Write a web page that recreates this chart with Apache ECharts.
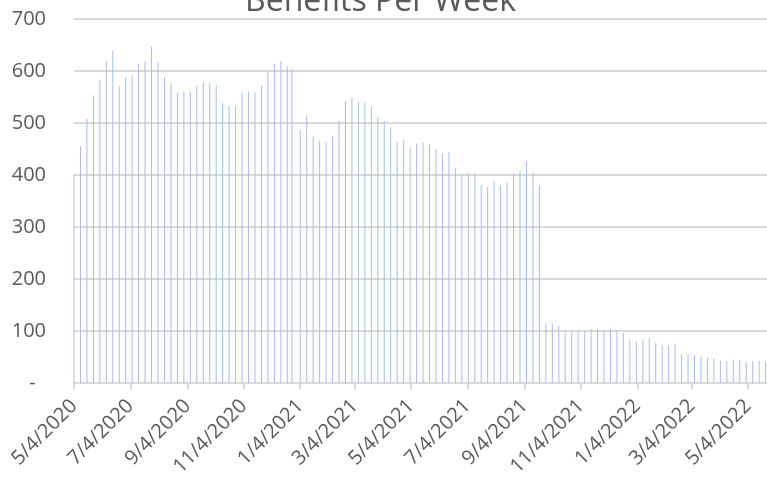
<!DOCTYPE html>
<html>
<head>
<meta charset="utf-8">
<script src="https://cdn.jsdelivr.net/npm/echarts@6/dist/echarts.min.js"></script>
<style>
html,body{margin:0;padding:0;background:#fff;}
#c{width:767px;height:485px;}
</style>
</head>
<body>
<div id="c"></div>
<script>
const chartTitle = 'Benefits Per Week';
const weekDates = [
 '2020-05-04','2020-05-11','2020-05-18','2020-05-25','2020-06-01','2020-06-08','2020-06-15','2020-06-22','2020-06-29',
 '2020-07-06','2020-07-13','2020-07-20','2020-07-27','2020-08-03','2020-08-10','2020-08-17','2020-08-24','2020-08-31',
 '2020-09-07','2020-09-14','2020-09-21','2020-09-28','2020-10-05','2020-10-12','2020-10-19','2020-10-26',
 '2020-11-02','2020-11-09','2020-11-16','2020-11-23','2020-11-30','2020-12-07','2020-12-14','2020-12-21','2020-12-26',
 '2021-01-04','2021-01-11','2021-01-18','2021-01-25','2021-02-01','2021-02-08','2021-02-15','2021-02-22',
 '2021-03-01','2021-03-08','2021-03-15','2021-03-22','2021-03-29','2021-04-05','2021-04-12','2021-04-19','2021-04-26',
 '2021-05-03','2021-05-10','2021-05-17','2021-05-24','2021-05-31','2021-06-07','2021-06-14','2021-06-21','2021-06-28',
 '2021-07-05','2021-07-12','2021-07-19','2021-07-26','2021-08-02','2021-08-09','2021-08-16','2021-08-23','2021-08-30',
 '2021-09-06','2021-09-13','2021-09-20','2021-09-27','2021-10-04','2021-10-11','2021-10-18','2021-10-25',
 '2021-11-01','2021-11-08','2021-11-15','2021-11-22','2021-11-29','2021-12-06','2021-12-13','2021-12-20','2021-12-27',
 '2022-01-03','2022-01-10','2022-01-17','2022-01-24','2022-01-31','2022-02-07','2022-02-14','2022-02-21','2022-02-28',
 '2022-03-07','2022-03-14','2022-03-21','2022-03-28','2022-04-04','2022-04-11','2022-04-18','2022-04-25',
 '2022-05-02','2022-05-09','2022-05-16','2022-05-23'
];
const benefits = [
 400,456,508,553,583,619,639,571,587,
 592,615,619,647,617,588,577,558,560,
 561,571,579,577,573,538,533,533,
 558,560,558,571,597,614,619,608,604,
 487,516,476,466,462,476,504,542,
 549,540,540,531,511,504,492,463,467,
 453,460,463,458,450,442,444,413,402,
 404,403,381,377,387,381,385,403,408,
 427,404,380,115,114,110,101,99,
 100,100,104,104,101,104,101,96,83,
 79,84,86,78,73,72,76,55,56,
 53,51,49,47,43,42,44,44,
 40,42,43,41
];
const tickDates = ['2020-05-04','2020-07-04','2020-09-04','2020-11-04','2021-01-04','2021-03-04','2021-05-04',
 '2021-07-04','2021-09-04','2021-11-04','2022-01-04','2022-03-04','2022-05-04'];
const axisStart = '2020-05-04';
const axisEnd = '2022-05-24T12:00';

function ts(s){
  const p = s.split('T');
  const d = p[0].split('-').map(Number);
  let h = 0;
  if (p[1]) h = Number(p[1].split(':')[0]);
  return Date.UTC(d[0], d[1]-1, d[2], h);
}
function fmt(v){
  const d = new Date(v);
  return (d.getUTCMonth()+1) + '/' + d.getUTCDate() + '/' + d.getUTCFullYear();
}
const tickTs = tickDates.map(ts);
const seriesData = weekDates.map((d,i)=>[ts(d), benefits[i]]);

const chart = echarts.init(document.getElementById('c'));
const font = '"Open Sans", "Noto Sans", sans-serif';
chart.setOption({
  animation: false,
  title: {
    text: chartTitle,
    left: 240,
    top: -19,
    textStyle: {fontFamily: font, fontSize: 32, fontWeight: 'normal', color: '#595959'}
  },
  grid: {left: 74, right: 0, top: 19, bottom: 102, containLabel: false},
  xAxis: {
    type: 'value',
    min: ts(axisStart),
    max: ts(axisEnd),
    splitLine: {show: false},
    axisLine: {show: true, onZero: false, lineStyle: {color: '#d9d9d9', width: 2}},
    axisTick: {show: true, customValues: tickTs, length: 6, lineStyle: {color: '#d9d9d9', width: 2}},
    axisLabel: {
      customValues: tickTs,
      rotate: 45,
      margin: 20,
      showMinLabel: true, showMaxLabel: true,
      fontFamily: font, fontSize: 20, color: '#595959',
      formatter: function(v){ return fmt(v); }
    }
  },
  yAxis: {
    type: 'value',
    min: 0, max: 700, interval: 100,
    axisLine: {show: false},
    axisTick: {show: false},
    splitLine: {lineStyle: {color: '#d9d9d9', width: 2}},
    axisLabel: {
      margin: 28,
      fontFamily: font, fontSize: 20, color: '#595959',
      formatter: function(v){ return v === 0 ? '-  ' : String(v); }
    }
  },
  series: [{
    type: 'bar',
    data: seriesData,
    barWidth: 1,
    itemStyle: {color: '#a6bde8'},
    z: 3
  }]
});
</script>
</body>
</html>
